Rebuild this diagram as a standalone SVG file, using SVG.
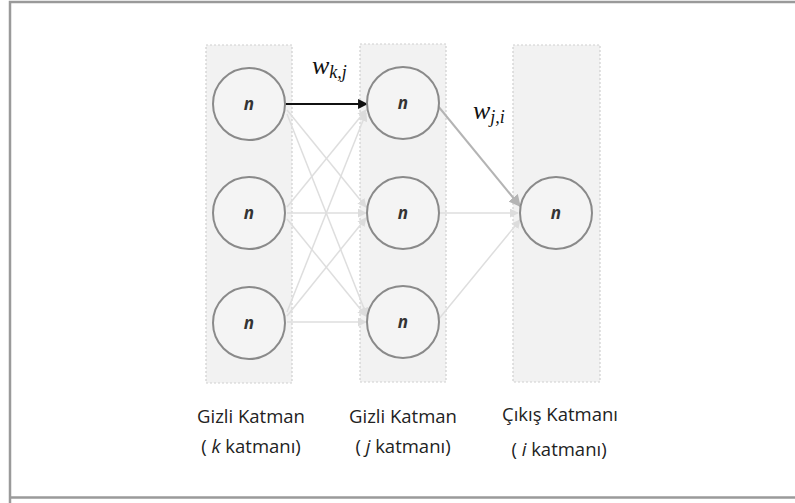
<svg xmlns="http://www.w3.org/2000/svg" width="795" height="503" viewBox="0 0 795 503">
  <defs>
    <marker id="ah-dark" viewBox="0 0 10 10" refX="9" refY="5" markerWidth="4.5" markerHeight="4.5" orient="auto" markerUnits="strokeWidth">
      <path d="M0,0 L10,5 L0,10 Z" fill="#111"/>
    </marker>
    <marker id="ah-mid" viewBox="0 0 10 10" refX="9" refY="5" markerWidth="6" markerHeight="6" orient="auto" markerUnits="strokeWidth">
      <path d="M0,0 L10,5 L0,10 Z" fill="#b4b4b4"/>
    </marker>
    <marker id="ah-light" viewBox="0 0 10 10" refX="9" refY="5" markerWidth="6" markerHeight="6" orient="auto" markerUnits="strokeWidth">
      <path d="M0,0 L10,5 L0,10 Z" fill="#dcdcdc"/>
    </marker>
  </defs>
  <style>
    .layer { fill: #f2f2f2; stroke: #cfcfcf; stroke-width: 1.2; stroke-dasharray: 2 2; }
    .neuron { fill: #f4f4f4; stroke: #8a8a8a; stroke-width: 2; }
    .nlabel { font-family: "Open Sans", "DejaVu Sans", sans-serif; font-style: italic; font-weight: bold; font-size: 17px; fill: #333; text-anchor: middle; }
    .cap { font-family: "Open Sans", "Liberation Sans", sans-serif; font-size: 18.5px; fill: #222; text-anchor: middle; }
    .w { font-family: "Liberation Serif", "DejaVu Serif", serif; font-style: italic; fill: #111; }
    .light { stroke: #dedede; stroke-width: 1.5; fill: none; marker-end: url(#ah-light); }
    .mid { stroke: #b4b4b4; stroke-width: 2; fill: none; marker-end: url(#ah-mid); }
    .dark { stroke: #111; stroke-width: 2.2; fill: none; marker-end: url(#ah-dark); }
  </style>

  <!-- outer frame -->
  <rect x="0" y="0" width="795" height="503" fill="#ffffff"/>
  <path d="M10,503 L10,2 L795,2" fill="none" stroke="#9a9a9a" stroke-width="2.5"/>
  <path d="M10,497.5 L795,497.5" fill="none" stroke="#9a9a9a" stroke-width="2.5"/>

  <!-- layer backgrounds -->
  <g id="layer-k"><rect class="layer" x="206" y="45" width="86" height="338"/></g>
  <g id="layer-j"><rect class="layer" x="360" y="44" width="86" height="338"/></g>
  <g id="layer-i"><rect class="layer" x="513" y="45" width="87" height="337"/></g>

  <!-- connectors -->
  <g id="connectors">
    <line class="light" x1="287" y1="110" x2="366" y2="207"/>
    <line class="light" x1="287" y1="114" x2="367" y2="316"/>
    <line class="light" x1="287" y1="213" x2="366" y2="213"/>
    <line class="light" x1="287" y1="207" x2="366" y2="110"/>
    <line class="light" x1="287" y1="219" x2="366" y2="316"/>
    <line class="light" x1="287" y1="322" x2="366" y2="322"/>
    <line class="light" x1="287" y1="316" x2="366" y2="218"/>
    <line class="light" x1="287" y1="312" x2="366" y2="113"/>
    <line class="dark" x1="285" y1="104" x2="367" y2="104"/>
    <line class="mid" x1="438" y1="106" x2="520" y2="206"/>
    <line class="light" x1="440" y1="213" x2="518" y2="213"/>
    <line class="light" x1="438" y1="320" x2="520" y2="220"/>
  </g>

  <!-- neurons, layer k -->
  <g id="k1"><circle class="neuron" cx="249" cy="104" r="36"/><text class="nlabel" x="249" y="110">n</text></g>
  <g id="k2"><circle class="neuron" cx="249" cy="213" r="36"/><text class="nlabel" x="249" y="219">n</text></g>
  <g id="k3"><circle class="neuron" cx="249" cy="323" r="36"/><text class="nlabel" x="249" y="329">n</text></g>
  <!-- neurons, layer j -->
  <g id="j1"><circle class="neuron" cx="403" cy="103" r="36"/><text class="nlabel" x="403" y="109">n</text></g>
  <g id="j2"><circle class="neuron" cx="403" cy="213" r="36"/><text class="nlabel" x="403" y="219">n</text></g>
  <g id="j3"><circle class="neuron" cx="403" cy="322" r="36"/><text class="nlabel" x="403" y="328">n</text></g>
  <!-- neuron, layer i -->
  <g id="i1"><circle class="neuron" cx="556" cy="213" r="36"/><text class="nlabel" x="556" y="219">n</text></g>

  <!-- weight labels -->
  <g id="w-kj"><text class="w" x="312" y="74" font-size="26">w<tspan font-size="18" dy="4">k,j</tspan></text></g>
  <g id="w-ji"><text class="w" x="473" y="119" font-size="26">w<tspan font-size="18" dy="4">j,i</tspan></text></g>

  <!-- layer captions -->
  <g id="cap-k">
    <text class="cap" x="251" y="423">Gizli Katman</text>
    <text class="cap" x="251" y="453">( <tspan font-style="italic">k</tspan> katmanı)</text>
  </g>
  <g id="cap-j">
    <text class="cap" x="403" y="423">Gizli Katman</text>
    <text class="cap" x="403" y="453">( <tspan font-style="italic">j</tspan> katmanı)</text>
  </g>
  <g id="cap-i">
    <text class="cap" x="560" y="421">Çıkış Katmanı</text>
    <text class="cap" x="559" y="456">( <tspan font-style="italic">i</tspan> katmanı)</text>
  </g>
</svg>
